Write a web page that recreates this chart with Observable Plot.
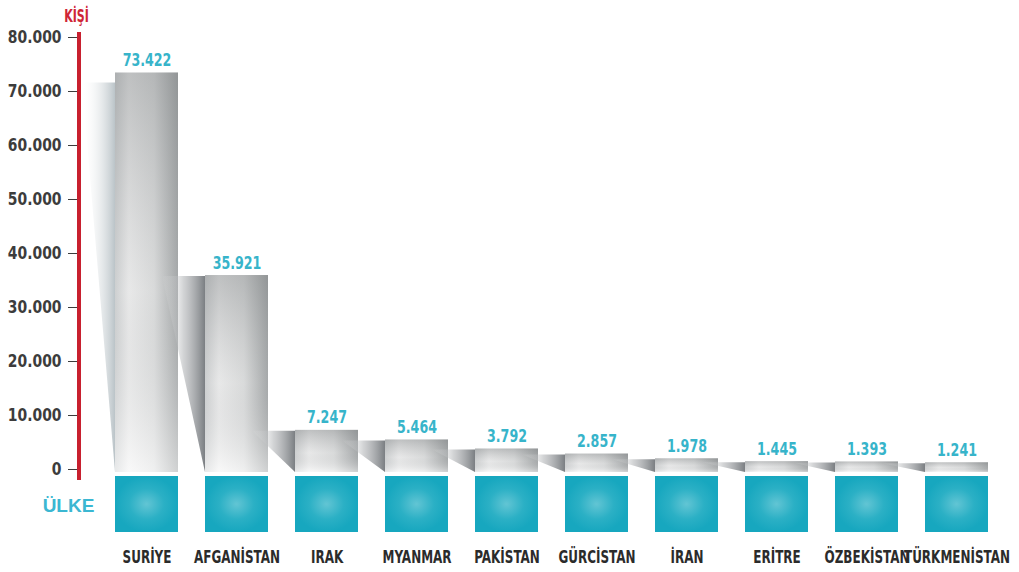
<!DOCTYPE html>
<html>
<head>
<meta charset="utf-8">
<script src="https://cdn.jsdelivr.net/npm/d3@7"></script>
<script src="https://cdn.jsdelivr.net/npm/@observablehq/plot@0.6"></script>
<style>
  html, body { margin: 0; padding: 0; background: #fff; }
  #chart svg { display: block; }
</style>
</head>
<body>
<div id="chart"></div>
<svg width="0" height="0" style="position:absolute;left:0;top:0">
  <defs>
    <linearGradient id="barH" x1="0" y1="0" x2="1" y2="0">
      <stop offset="0" stop-color="#d6d8d9"/>
      <stop offset="0.22" stop-color="#f4f4f4"/>
      <stop offset="0.62" stop-color="#e3e4e4"/>
      <stop offset="1" stop-color="#a9acad"/>
    </linearGradient>
    <linearGradient id="barV" x1="0" y1="0" x2="0" y2="1">
      <stop offset="0" stop-color="#6f7375" stop-opacity="0.4"/>
      <stop offset="0.55" stop-color="#8f9294" stop-opacity="0.12"/>
      <stop offset="1" stop-color="#ffffff" stop-opacity="0.45"/>
    </linearGradient>
    <radialGradient id="teal" cx="0.5" cy="0.5" r="0.5">
      <stop offset="0" stop-color="#62c5d4"/>
      <stop offset="0.55" stop-color="#2bb0c5"/>
      <stop offset="1" stop-color="#17a7bf"/>
    </radialGradient>
    <linearGradient id="shadow" x1="1" y1="0" x2="0" y2="0">
      <stop offset="0" stop-color="#74787c" stop-opacity="0.95"/>
      <stop offset="0.5" stop-color="#a5a8ab" stop-opacity="0.5"/>
      <stop offset="1" stop-color="#ffffff" stop-opacity="0"/>
    </linearGradient>
    <linearGradient id="shadow0" x1="1" y1="0" x2="0" y2="0">
      <stop offset="0" stop-color="#b3bdc2" stop-opacity="0.9"/>
      <stop offset="1" stop-color="#ffffff" stop-opacity="0"/>
    </linearGradient>
  </defs>
</svg>
<script>
// ---- data ----
const countries = ["SURİYE", "AFGANİSTAN", "IRAK", "MYANMAR", "PAKİSTAN", "GÜRCİSTAN", "İRAN", "ERİTRE", "ÖZBEKİSTAN", "TÜRKMENİSTAN"];
const values = [73422, 35921, 7247, 5464, 3792, 2857, 1978, 1445, 1393, 1241];
const yTicks = [0, 10000, 20000, 30000, 40000, 50000, 60000, 70000, 80000];
const yTitle = "KİŞİ";
const xTitle = "ÜLKE";

const data = countries.map((c, i) => ({country: c, value: values[i]}));
const fmt = d3.formatLocale({decimal: ",", thousands: ".", grouping: [3], currency: ["", ""]}).format(",d");

const condFont = '"Liberation Sans Narrow", "DejaVu Sans Condensed", "Arial Narrow", sans-serif';

// decorative shadows to the left of each bar
function shadows(index, scales, vals, dims) {
  const x = scales.x, y = scales.y, bw = x.bandwidth();
  const base = y(0) + 3;
  const g = d3.create("svg:g");
  countries.forEach((c, i) => {
    const left = x(c);
    const top = y(values[i]);
    const start = i === 0 ? dims.marginLeft + 3 : x(countries[i - 1]) + bw - 16;
    const t = i === 0 ? top + 10 : top + 1;
    g.append("path")
      .attr("d", `M${start},${t}L${left},${t}L${left},${base}Z`)
      .attr("fill", i === 0 ? "url(#shadow0)" : "url(#shadow)");
  });
  return g.node();
}

function redAxis(index, scales, vals, dims) {
  return d3.create("svg:line")
    .attr("x1", dims.marginLeft).attr("x2", dims.marginLeft)
    .attr("y1", dims.marginTop - 5)
    .attr("y2", dims.height - dims.marginBottom + 11)
    .attr("stroke", "#c8202f").attr("stroke-width", 4)
    .node();
}

const chart = Plot.plot({
  width: 1019,
  height: 572,
  marginTop: 37,
  marginBottom: 103,
  marginLeft: 79,
  marginRight: 17.5,
  style: {background: "#fff", fontFamily: condFont, overflow: "visible"},
  x: {domain: countries, range: [101.5, 1001.5], paddingInner: 0.3, paddingOuter: 0.15, axis: null},
  y: {domain: [0, 80000], axis: null},
  marks: [
    Plot.axisY({ticks: yTicks, tickFormat: fmt, tickSize: 11, tickPadding: 7, label: null,
                fontSize: 18, fontWeight: "bold", color: "#3c3c3c"}),
    Plot.barY(data, {x: "country", y: "value", fill: "url(#barH)", insetBottom: -3}),
    Plot.barY(data, {x: "country", y: "value", fill: "url(#barV)", insetBottom: -3}),
    shadows,
    Plot.barY(countries, {x: d => d, y1: 0, y2: 0, insetTop: 7, insetBottom: -63, fill: "url(#teal)"}),
    Plot.text(data, {x: "country", y: "value", text: d => fmt(d.value), lineAnchor: "bottom", dy: -7,
                     fill: "#37b4ca", fontSize: 18, fontWeight: "bold"}),
    Plot.text(countries, {x: d => d, frameAnchor: "bottom", dy: 88, lineAnchor: "middle",
                          fill: "#2b2b2b", fontSize: 18, fontWeight: "bold"}),
    Plot.text([yTitle], {frameAnchor: "top-left", dx: -3, dy: -16, textAnchor: "middle", lineAnchor: "bottom",
                         fill: "#cf2535", fontSize: 17, fontWeight: "bold"}),
    Plot.text([xTitle], {frameAnchor: "bottom-left", dx: -11, dy: 36, textAnchor: "middle", lineAnchor: "middle",
                         fill: "#3bb7d2", fontSize: 19, fontWeight: "bold",
                         fontFamily: '"Liberation Sans", "DejaVu Sans", sans-serif'}),
    redAxis
  ]
});

document.getElementById("chart").appendChild(chart);

// horizontally condense texts (around their anchor) to imitate the narrow display typeface
function condense(svg) {
  const tickSet = new Set(yTicks.map(fmt));
  const valSet = new Set(values.map(fmt));
  const catSet = new Set(countries);
  svg.querySelectorAll("text").forEach(t => {
    const s = t.textContent;
    let sx = null;
    if (catSet.has(s)) sx = 0.74;
    else if (valSet.has(s)) sx = 0.78;
    else if (tickSet.has(s)) sx = 0.86;
    else if (s === yTitle) sx = 0.72;
    if (sx === null) return;
    const bb = t.getBBox();
    let anchor = getComputedStyle(t).textAnchor || "start";
    const ax = anchor === "middle" ? bb.x + bb.width / 2 : anchor === "end" ? bb.x + bb.width : bb.x;
    const tr = t.getAttribute("transform") || "";
    t.setAttribute("transform", `${tr} translate(${ax},0) scale(${sx},1) translate(${-ax},0)`.trim());
  });
}
condense(chart);
</script>
</body>
</html>
